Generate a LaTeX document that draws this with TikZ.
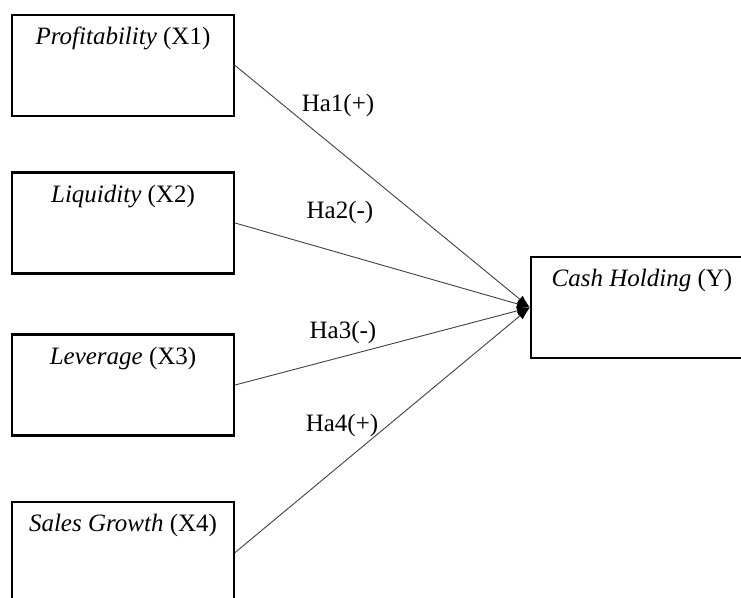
\documentclass[tikz,border=0pt]{standalone}
\usepackage{fontspec}
\setmainfont{Liberation Serif}
\usetikzlibrary{arrows.meta}
\tikzset{
  x=1pt, y=-1pt,
  box/.style={draw=black, line width=2.2pt, minimum width=222pt, minimum height=101pt, inner sep=0pt, fill=white},
  lbl/.style={anchor=base, yshift=-31pt, inner sep=0pt},
  conn/.style={draw=black!75, line width=0.9pt, -{Latex[length=13pt,width=9pt,black]}},
  hyp/.style={inner sep=0pt}
}
\begin{document}
\begin{tikzpicture}[font=\fontsize{25}{30}\selectfont]
\useasboundingbox (0,0) rectangle (741,597);
\begin{scope}
\clip (0,0) rectangle (741,597);
\node[box, label={[lbl, name=t1]north:\textit{Profitability} (X1)}] (x1) at (123,65.5) {};
\node[box, label={[lbl, name=t2]north:\textit{Liquidity} (X2)}] (x2) at (123,223) {};
\node[box, label={[lbl, name=t3]north:\textit{Leverage} (X3)}] (x3) at (123,385) {};
\node[box, label={[lbl, name=t4]north:\textit{Sales Growth} (X4)}] (x4) at (123,552.5) {};
\node[box, label={[lbl, name=ty]north:\textit{Cash Holding} (Y)}] (y) at (642,307.5) {};
\draw[conn] (x1.east) -- (y.west);
\draw[conn] (x2.east) -- (y.west);
\draw[conn] (x3.east) -- (y.west);
\draw[conn] (x4.east) -- (y.west);
\end{scope}
\node[hyp] (h1) at (338,105) {Ha1(+)};
\node[hyp] (h2) at (340,212) {Ha2(-)};
\node[hyp] (h3) at (343,332) {Ha3(-)};
\node[hyp] (h4) at (342,425) {Ha4(+)};
\end{tikzpicture}
\end{document}
